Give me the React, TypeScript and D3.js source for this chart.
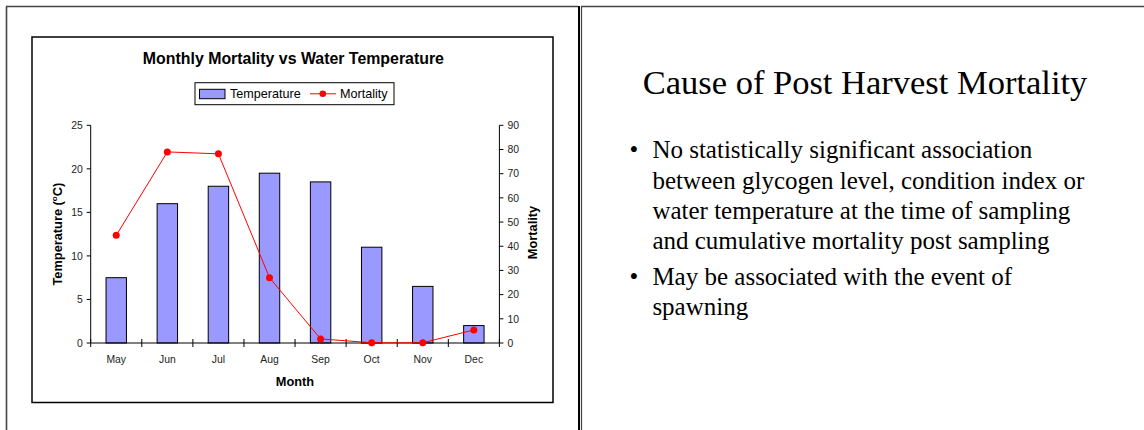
import React from "react";
import * as d3 from "d3";

const months = ["May", "Jun", "Jul", "Aug", "Sep", "Oct", "Nov", "Dec"];
const temperature = [7.5, 16, 18, 19.5, 18.5, 11, 6.5, 2];
const mortality = [44.5, 79, 78.2, 27, 1.7, 0.1, 0.1, 5.4];
const leftTicks = [0, 5, 10, 15, 20, 25];
const rightTicks = [0, 10, 20, 30, 40, 50, 60, 70, 80, 90];
const bulletLines = [
  ["No statistically significant association", "between glycogen level, condition index or", "water temperature at the time of sampling", "and cumulative mortality post sampling"],
  ["May be associated with the event of", "spawning"],
];

const W = 1144;
const H = 430;
const plot = { left: 90.7, right: 499.4, top: 125.3, bottom: 343 };
const sans = "'Liberation Sans', Arial, sans-serif";
const serif = "'Liberation Serif', 'Times New Roman', serif";
const barFill = "#9999ff";

export default function App() {
  const x = d3.scaleBand<string>().domain(months).range([plot.left, plot.right]).padding(0);
  const yL = d3.scaleLinear().domain([0, 25]).range([plot.bottom, plot.top]);
  const yR = d3.scaleLinear().domain([0, 90]).range([plot.bottom, plot.top]);
  const step = x.step();
  const barW = step * 0.4;
  const cx = (m: string) => (x(m) as number) + step / 2;
  const line = d3
    .line<number>()
    .x((_, i) => cx(months[i]))
    .y((d) => yR(d));
  const boundaries = d3.range(months.length + 1).map((i) => plot.left + i * step);

  const lineY = [158.3, 188.6, 219, 249.3, 285, 315.3];
  let li = 0;

  return (
    <div style={{ position: "absolute", left: 0, top: 0 }}>
      <svg width={W} height={H} style={{ display: "block", background: "#fff" }}>
        {/* slide frames */}
        <line x1={6.5} y1={6.5} x2={6.5} y2={H} stroke="#444" strokeWidth={1.6} />
        <line x1={6} y1={6.5} x2={578} y2={6.5} stroke="#444" strokeWidth={1.6} />
        <line x1={579} y1={0} x2={579} y2={H} stroke="#000" strokeWidth={2} transform="translate(0,6)" />
        <line x1={581.5} y1={6} x2={581.5} y2={H} stroke="#444" strokeWidth={1.2} />
        <line x1={581} y1={6.5} x2={W} y2={6.5} stroke="#444" strokeWidth={1.6} />

        {/* chart box */}
        <rect x={32} y={37} width={521} height={365.5} fill="#fff" stroke="#000" strokeWidth={1.5} />

        <text x={293.4} y={64} textAnchor="middle" fontFamily={sans} fontWeight="bold" fontSize={15.9} fill="#000">
          Monthly Mortality vs Water Temperature
        </text>

        {/* legend */}
        <rect x={195} y={82.7} width={199} height={22} fill="#fff" stroke="#000" strokeWidth={1} />
        <rect x={199.5} y={89.3} width={25.5} height={9.4} fill={barFill} stroke="#000" strokeWidth={1} />
        <text x={230} y={98.2} fontFamily={sans} fontSize={12.6} fill="#000">Temperature</text>
        <line x1={310} y1={93.8} x2={336} y2={93.8} stroke="#ff0000" strokeWidth={1} />
        <circle cx={322.8} cy={93.8} r={3.3} fill="#ff0000" />
        <text x={340} y={98.2} fontFamily={sans} fontSize={12.6} fill="#000">Mortality</text>

        {/* bars */}
        {temperature.map((v, i) => (
          <rect
            key={months[i]}
            x={cx(months[i]) - barW / 2}
            y={yL(v)}
            width={barW}
            height={yL(0) - yL(v)}
            fill={barFill}
            stroke="#000"
            strokeWidth={1}
          />
        ))}

        {/* axes */}
        <line x1={plot.left} y1={plot.top} x2={plot.left} y2={plot.bottom} stroke="#000" strokeWidth={1} />
        <line x1={plot.right} y1={plot.top} x2={plot.right} y2={plot.bottom} stroke="#000" strokeWidth={1} />
        <line x1={plot.left} y1={plot.bottom} x2={plot.right} y2={plot.bottom} stroke="#000" strokeWidth={1} />
        {leftTicks.map((t) => (
          <g key={"l" + t}>
            <line x1={plot.left - 4} x2={plot.left} y1={yL(t)} y2={yL(t)} stroke="#000" />
            <text x={plot.left - 8} y={yL(t) + 3.7} textAnchor="end" fontFamily={sans} fontSize={10.4} fill="#222">
              {t}
            </text>
          </g>
        ))}
        {rightTicks.map((t) => (
          <g key={"r" + t}>
            <line x1={plot.right} x2={plot.right + 4} y1={yR(t)} y2={yR(t)} stroke="#000" />
            <text x={plot.right + 8} y={yR(t) + 3.7} textAnchor="start" fontFamily={sans} fontSize={10.4} fill="#222">
              {t}
            </text>
          </g>
        ))}
        {boundaries.map((b, i) => (
          <line key={"b" + i} x1={b} x2={b} y1={plot.bottom - 4} y2={plot.bottom + 4} stroke="#000" />
        ))}
        {months.map((m) => (
          <text key={m} x={cx(m)} y={362.5} textAnchor="middle" fontFamily={sans} fontSize={10.4} fill="#222">
            {m}
          </text>
        ))}

        {/* mortality line */}
        <path d={line(mortality) || ""} fill="none" stroke="#ff0000" strokeWidth={1} />
        {mortality.map((v, i) => (
          <circle key={"p" + i} cx={cx(months[i])} cy={yR(v)} r={3.5} fill="#ff0000" />
        ))}

        {/* axis titles */}
        <text x={295} y={385.5} textAnchor="middle" fontFamily={sans} fontWeight="bold" fontSize={12.8} fill="#000">
          Month
        </text>
        <text
          transform={`translate(61.8,${(plot.top + plot.bottom) / 2}) rotate(-90)`}
          textAnchor="middle"
          fontFamily={sans}
          fontWeight="bold"
          fontSize={12.8}
          fill="#000"
        >
          Temperature (<tspan dy={-4.5} fontSize={8}>o</tspan>
          <tspan dy={4.5}>C)</tspan>
        </text>
        <text
          transform={`translate(536.5,232.5) rotate(-90)`}
          textAnchor="middle"
          fontFamily={sans}
          fontWeight="bold"
          fontSize={12.8}
          fill="#000"
        >
          Mortality
        </text>

        {/* right panel text */}
        <text x={642.7} y={94} fontFamily={serif} fontSize={34.5} fill="#000">
          Cause of Post Harvest Mortality
        </text>
        {bulletLines.map((group, gi) => (
          <g key={"g" + gi}>
            {group.map((ln, k) => {
              const yy = lineY[li++];
              return (
                <g key={k}>
                  {k === 0 && (
                    <text x={634} y={yy} textAnchor="middle" fontFamily={serif} fontSize={25} fill="#000">
                      •
                    </text>
                  )}
                  <text x={652.4} y={yy} fontFamily={serif} fontSize={25} fill="#000">
                    {ln}
                  </text>
                </g>
              );
            })}
          </g>
        ))}
      </svg>
    </div>
  );
}
